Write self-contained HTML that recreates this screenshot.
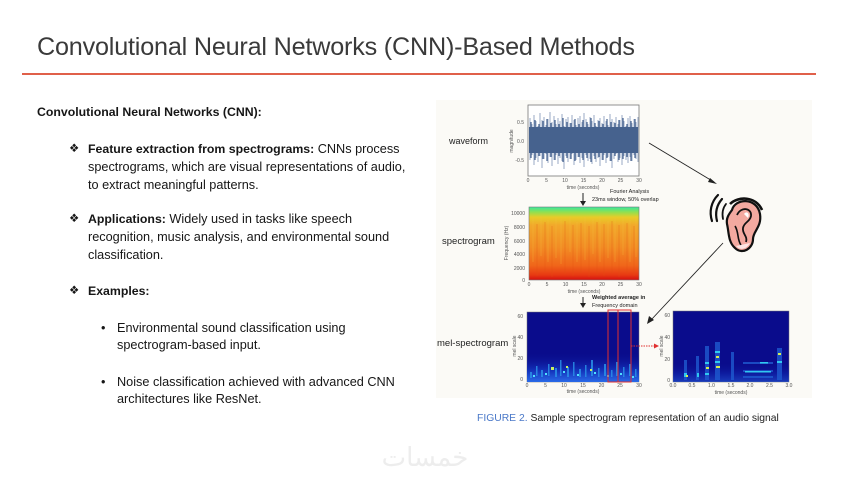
<!DOCTYPE html>
<html><head><meta charset="utf-8">
<style>
html,body{margin:0;padding:0;background:#fff;}
body{width:853px;height:477px;position:relative;overflow:hidden;font-family:"Liberation Sans",sans-serif;color:#161616;}
.t{position:absolute;white-space:nowrap;line-height:18px;font-size:12.7px;}
.b{font-weight:bold;font-size:12.3px;}
#title{position:absolute;left:37px;top:31px;font-size:25.2px;line-height:32px;color:#3a3a3a;white-space:nowrap;letter-spacing:-0.2px;}
#rule{position:absolute;left:22px;top:73px;width:794px;height:2px;background:#e0604a;}
svg{position:absolute;left:0;top:0;}
.d{font-size:11.5px;}
</style></head><body>
<div id="title">Convolutional Neural Networks (CNN)-Based Methods</div>
<div id="rule"></div>

<div class="t b" style="left:37px;top:103px;">Convolutional Neural Networks (CNN):</div>

<div class="t d" style="left:69px;top:140px;">❖</div>
<div class="t" style="left:88px;top:140px;"><span class="b">Feature extraction from spectrograms:</span> CNNs process</div>
<div class="t" style="left:88px;top:158px;">spectrograms, which are visual representations of audio,</div>
<div class="t" style="left:88px;top:176px;">to extract meaningful patterns.</div>

<div class="t d" style="left:69px;top:210px;">❖</div>
<div class="t" style="left:88px;top:210px;"><span class="b">Applications:</span> Widely used in tasks like speech</div>
<div class="t" style="left:88px;top:228px;">recognition, music analysis, and environmental sound</div>
<div class="t" style="left:88px;top:246px;">classification.</div>

<div class="t d" style="left:69px;top:282px;">❖</div>
<div class="t b" style="left:88px;top:282px;">Examples:</div>

<div class="t" style="left:101px;top:319px;">•</div>
<div class="t" style="left:117px;top:319px;">Environmental sound classification using</div>
<div class="t" style="left:117px;top:336px;">spectrogram-based input.</div>
<div class="t" style="left:101px;top:373px;">•</div>
<div class="t" style="left:117px;top:373px;">Noise classification achieved with advanced CNN</div>
<div class="t" style="left:117px;top:390px;">architectures like ResNet.</div>

<svg width="853" height="477" viewBox="0 0 853 477" xmlns="http://www.w3.org/2000/svg" font-family="Liberation Sans, sans-serif">
<defs>
<linearGradient id="spec" x1="0" y1="0" x2="0" y2="1">
<stop offset="0" stop-color="#38e8a0"/>
<stop offset="0.07" stop-color="#90e050"/>
<stop offset="0.14" stop-color="#e8cc28"/>
<stop offset="0.25" stop-color="#f2a82a"/>
<stop offset="0.55" stop-color="#f28c24"/>
<stop offset="0.8" stop-color="#f0661a"/>
<stop offset="0.93" stop-color="#e83a12"/>
<stop offset="1" stop-color="#d41010"/>
</linearGradient>
<linearGradient id="melb" x1="0" y1="0" x2="0" y2="1">
<stop offset="0" stop-color="#0a0c8c" stop-opacity="0"/>
<stop offset="0.6" stop-color="#1230b8"/>
<stop offset="1" stop-color="#2a6ae8"/>
</linearGradient>
</defs>

<rect x="436" y="100" width="376" height="298" fill="#fbfaf6"/>

<text x="449" y="144" font-size="9" fill="#222">waveform</text>
<text x="442" y="244" font-size="9.5" fill="#222">spectrogram</text>
<text x="437" y="346" font-size="9.5" fill="#222">mel-spectrogram</text>

<!-- waveform -->
<rect x="528" y="105" width="111" height="71" fill="#fff" stroke="#777" stroke-width="0.8"/>
<g stroke="#7f96b8" stroke-width="1" opacity="0.8">
<path d="M530 118V160M532 124V155M534 115V165M536 121V158M538 126V162M540 113V156M542 120V168M544 117V159M546 125V154M548 119V163M550 112V157M552 122V166M554 116V160M556 124V155M558 118V164M560 121V158M562 114V161M564 126V169M566 119V156M568 117V162M570 123V159M572 115V154M574 120V165M576 125V160M578 118V157M580 116V163M582 122V158M584 113V167M586 119V155M588 124V161M590 117V159M592 121V164M594 115V156M596 126V162M598 120V158M600 118V166M602 123V160M604 116V155M606 121V163M608 125V157M610 114V161M612 119V168M614 122V159M616 117V154M618 124V162M620 120V158M622 115V165M624 121V156M626 126V160M628 118V163M630 116V157M632 123V161M634 119V155M636 122V159M638 117V162"/>
</g>
<rect x="529" y="127" width="109" height="26" fill="#46628e"/>
<g stroke="#46628e" stroke-width="1.2">
<path d="M531 122V158M535 120V160M539 124V156M543 121V159M547 119V161M551 123V157M555 120V160M559 124V156M563 118V162M567 122V158M571 123V159M575 119V161M579 124V157M583 120V160M587 122V158M591 118V162M595 123V159M599 121V157M603 124V160M607 119V158M611 122V161M615 123V156M619 120V160M623 118V159M627 124V157M631 121V161M635 119V158"/>
</g>
<g font-size="5" fill="#555" text-anchor="middle">
<text x="528" y="182">0</text><text x="546.5" y="182">5</text><text x="565" y="182">10</text><text x="583.5" y="182">15</text><text x="602" y="182">20</text><text x="620.5" y="182">25</text><text x="639" y="182">30</text>
<text x="583" y="189">time (seconds)</text>
</g>
<g font-size="5" fill="#555" text-anchor="end">
<text x="524" y="124">0.5</text><text x="524" y="143">0.0</text><text x="524" y="162">-0.5</text>
</g>
<text transform="translate(513,141) rotate(-90)" font-size="5" fill="#555" text-anchor="middle">magnitude</text>

<path d="M583 193V203" stroke="#222" stroke-width="1"/>
<path d="M580 201L583 206L586 201Z" fill="#222"/>
<text x="610" y="193" font-size="5.5" fill="#222">Fourier Analysis</text>
<text x="592" y="201" font-size="5.5" fill="#222">23ms window, 50% overlap</text>

<!-- spectrogram -->
<rect x="529" y="207" width="110" height="73" fill="url(#spec)" stroke="#777" stroke-width="0.6"/>
<g stroke-width="1" opacity="0.3">
<path stroke="#f6c040" d="M533 218V262M541 216V256M548 220V262M556 217V258M561 219V264M570 216V252M577 222V262M585 217V260M593 219V254M600 216V262M608 221V258M615 218V262M623 217V255M630 220V262M636 216V257"/>
<path stroke="#e05010" d="M537 224V276M545 222V272M552 226V277M565 221V274M573 225V276M581 223V273M589 226V277M597 222V275M604 224V276M612 221V273M619 225V277M627 223V274M634 226V276"/>
</g>
<g font-size="5" fill="#555" text-anchor="middle">
<text x="529" y="286">0</text><text x="547" y="286">5</text><text x="565.5" y="286">10</text><text x="584" y="286">15</text><text x="602" y="286">20</text><text x="620.5" y="286">25</text><text x="639" y="286">30</text>
<text x="584" y="293">time (seconds)</text>
</g>
<g font-size="5" fill="#555" text-anchor="end">
<text x="525" y="215">10000</text><text x="525" y="229">8000</text><text x="525" y="243">6000</text><text x="525" y="256">4000</text><text x="525" y="270">2000</text><text x="525" y="282">0</text>
</g>
<text transform="translate(508,243) rotate(-90)" font-size="5" fill="#555" text-anchor="middle">Frequency (Hz)</text>

<path d="M583 297V305" stroke="#222" stroke-width="1"/>
<path d="M580 303L583 308L586 303Z" fill="#222"/>
<text x="592" y="299" font-size="5.5" fill="#222" font-weight="bold">Weighted average in</text>
<text x="592" y="307" font-size="5.5" fill="#222">Frequency domain</text>

<!-- mel 1 -->
<rect x="527" y="312" width="112" height="70" fill="#0a0c8c" stroke="#777" stroke-width="0.5"/>
<rect x="527" y="352" width="112" height="30" fill="url(#melb)"/>
<g fill="#2a90e8" opacity="0.85">
<rect x="530" y="372" width="2" height="6"/><rect x="536" y="366" width="1.5" height="10"/><rect x="541" y="370" width="2" height="7"/><rect x="548" y="364" width="1.5" height="12"/><rect x="555" y="368" width="2" height="9"/><rect x="560" y="360" width="1.5" height="16"/><rect x="567" y="367" width="2" height="10"/><rect x="573" y="362" width="1.5" height="14"/><rect x="579" y="369" width="2" height="8"/><rect x="585" y="365" width="1.5" height="12"/><rect x="591" y="360" width="2" height="16"/><rect x="598" y="368" width="1.5" height="9"/><rect x="604" y="364" width="2" height="12"/><rect x="611" y="370" width="1.5" height="7"/><rect x="616" y="362" width="2" height="14"/><rect x="623" y="367" width="1.5" height="10"/><rect x="629" y="364" width="2" height="12"/><rect x="635" y="369" width="1.5" height="8"/>
</g>
<g fill="#50e0ff">
<rect x="533" y="375" width="2" height="2"/><rect x="545" y="373" width="2" height="2"/><rect x="563" y="371" width="2" height="2"/><rect x="577" y="374" width="2" height="2"/><rect x="594" y="372" width="2" height="2"/><rect x="607" y="375" width="2" height="2"/><rect x="620" y="373" width="2" height="2"/><rect x="632" y="376" width="2" height="2"/>
</g>
<g fill="#c8f060"><rect x="551" y="367" width="3" height="3"/><rect x="590" y="369" width="2" height="2"/><rect x="566" y="366" width="2" height="2"/></g>
<g font-size="5" fill="#555" text-anchor="middle">
<text x="527" y="387">0</text><text x="545.5" y="387">5</text><text x="564" y="387">10</text><text x="583" y="387">15</text><text x="601.5" y="387">20</text><text x="620" y="387">25</text><text x="639" y="387">30</text>
<text x="583" y="393">time (seconds)</text>
</g>
<g font-size="5" fill="#555" text-anchor="end">
<text x="523" y="318">60</text><text x="523" y="339">40</text><text x="523" y="360">20</text><text x="523" y="381">0</text>
</g>
<text transform="translate(516,346) rotate(-90)" font-size="5" fill="#555" text-anchor="middle">mel scale</text>
<rect x="608" y="310" width="10" height="72" fill="none" stroke="#e03030" stroke-width="1"/>
<rect x="618" y="310" width="13" height="72" fill="none" stroke="#e03030" stroke-width="1"/>
<path d="M631 346H655" stroke="#e03030" stroke-width="1" stroke-dasharray="1.5 1"/>
<path d="M654 343.5L659 346L654 348.5Z" fill="#e03030"/>

<!-- mel 2 -->
<rect x="673" y="311" width="116" height="71" fill="#0a0c8c" stroke="#777" stroke-width="0.5"/>
<rect x="673" y="362" width="116" height="20" fill="url(#melb)" opacity="0.5"/>
<g fill="#1e5ad0" opacity="0.8">
<rect x="684" y="360" width="3" height="20"/><rect x="696" y="356" width="3" height="24"/><rect x="705" y="346" width="4" height="34"/><rect x="715" y="342" width="5" height="38"/><rect x="731" y="352" width="3" height="28"/><rect x="743" y="362" width="30" height="2"/><rect x="743" y="370" width="30" height="2"/><rect x="743" y="376" width="30" height="2"/><rect x="777" y="348" width="5" height="32"/>
</g>
<g fill="#30c8f0">
<rect x="684" y="373" width="3" height="4"/><rect x="697" y="373" width="2" height="4"/><rect x="705" y="362" width="4" height="2"/><rect x="705" y="373" width="4" height="2"/><rect x="715" y="351" width="5" height="2"/><rect x="715" y="361" width="5" height="2"/><rect x="745" y="371" width="26" height="1.5"/><rect x="760" y="362" width="8" height="1.5"/><rect x="777" y="361" width="5" height="2"/>
</g>
<g fill="#d8f050">
<rect x="686" y="375" width="2" height="2"/><rect x="706" y="367" width="3" height="2"/><rect x="716" y="366" width="4" height="2"/><rect x="716" y="356" width="3" height="2"/><rect x="778" y="353" width="3" height="2"/>
</g>
<g font-size="5" fill="#555" text-anchor="middle">
<text x="673" y="387">0.0</text><text x="692" y="387">0.5</text><text x="711.5" y="387">1.0</text><text x="731" y="387">1.5</text><text x="750" y="387">2.0</text><text x="769.5" y="387">2.5</text><text x="789" y="387">3.0</text>
<text x="731" y="394">time (seconds)</text>
</g>
<g font-size="5" fill="#555" text-anchor="end">
<text x="670" y="317">60</text><text x="670" y="339">40</text><text x="670" y="361">20</text><text x="670" y="382">0</text>
</g>
<text transform="translate(663,346) rotate(-90)" font-size="5" fill="#555" text-anchor="middle">mel scale</text>

<path d="M649 143L714 182" stroke="#222" stroke-width="0.9"/>
<path d="M710 178L717 184L708 182Z" fill="#222"/>
<path d="M723 243L651 320" stroke="#222" stroke-width="0.9"/>
<path d="M649 316L647 324L654 320Z" fill="#222"/>

<!-- ear -->
<g stroke="#111" fill="none" stroke-linecap="round">
<path d="M718 195C711 202 709 212 712 221" stroke-width="2.2"/>
<path d="M722 199C716 206 715 213 717 221" stroke-width="2.2"/>
<path d="M726 204C722 209 722 214 723 219" stroke-width="1.8"/>
</g>
<path d="M732 210C735 198 757 197 760 214C762 227 753 231 753 239C753 249 742 255 735 248C728 242 729 232 727 224C726 218 729 214 732 210Z" fill="#f3a9a0" stroke="#111" stroke-width="2.2"/>
<path d="M730 204C738 196 756 196 762 210" fill="none" stroke="#111" stroke-width="2.6"/>
<path d="M737 215C741 206 752 208 751 216C750 222 744 222 743 228C742 234 748 236 746 242" fill="none" stroke="#111" stroke-width="1.8"/>
<path d="M735 226C739 232 737 240 741 245" fill="none" stroke="#111" stroke-width="1.6"/>
<path d="M744 214C747 210 750 214 748 218" fill="#fff" stroke="none"/>
<path d="M736 246C740 251 747 249 750 243" fill="#fff" stroke="none" opacity="0.7"/>

<text x="477" y="421" font-size="10.35" fill="#222"><tspan fill="#4a78c8">FIGURE 2.</tspan> Sample spectrogram representation of an audio signal</text>

<text x="425" y="466" font-size="26" fill="#ededed" text-anchor="middle" font-family="DejaVu Sans, sans-serif">خمسات</text>
</svg>
</body></html>
